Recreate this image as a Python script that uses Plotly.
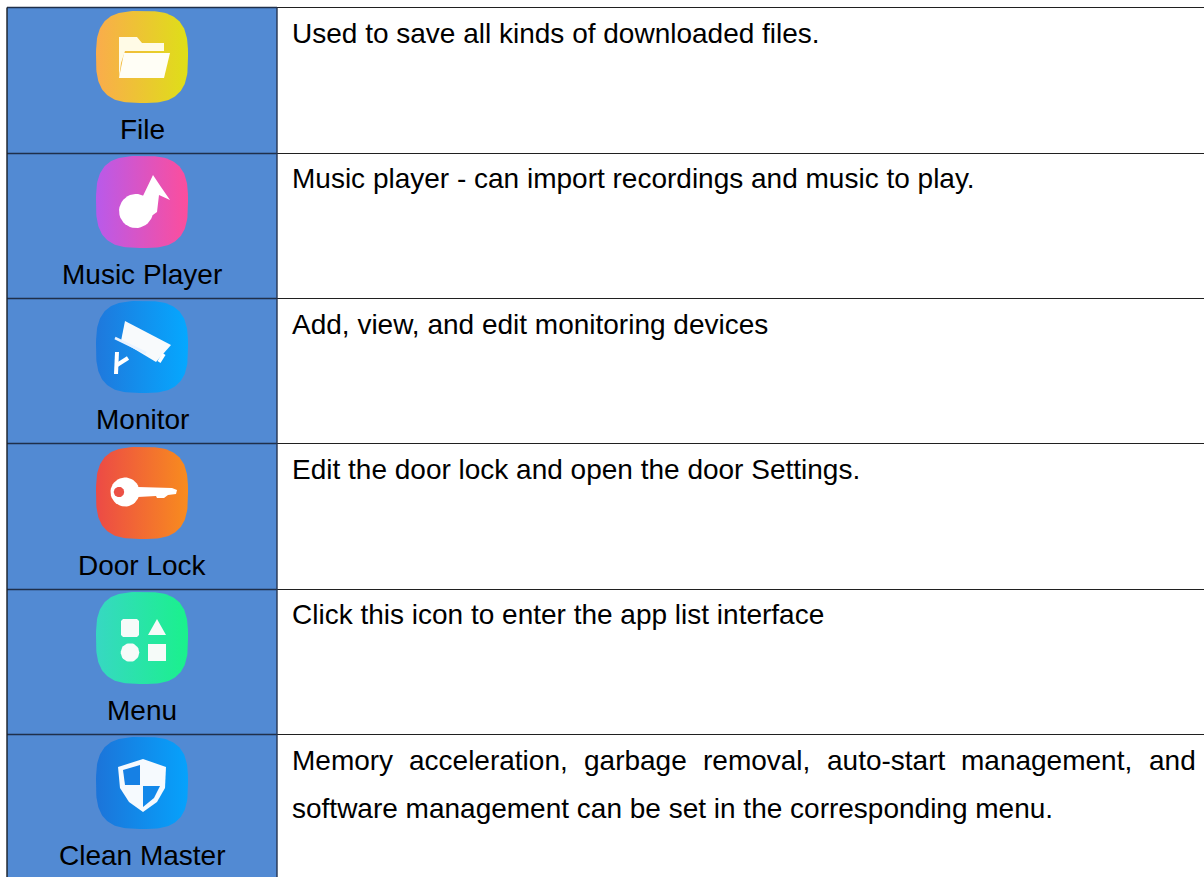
import numpy as np
import plotly.graph_objects as go

# ---- table content ----
names = ["File", "Music Player", "Monitor", "Door Lock", "Menu", "Clean Master"]
descriptions = [
    "Used to save all kinds of downloaded files.",
    "Music player - can import recordings and music to play.",
    "Add, view, and edit monitoring devices",
    "Edit the door lock and open the door Settings.",
    "Click this icon to enter the app list interface",
    None,
]
last_line1_words = ["Memory", "acceleration,", "garbage", "removal,", "auto-start", "management,", "and"]
last_line1_x = [291, 407.5, 583, 701.5, 825.5, 959.5, 1148]
last_line2 = "software management can be set in the corresponding menu."

row_edges = [7.5, 153.5, 298.5, 443.5, 589.5, 734.5, 880]
text_mid = [33, 178.7, 324, 469.5, 614.3, 760]
label_mid = [129, 274.5, 419.5, 565.3, 710.3, 855.5]
icon_tops = [11, 156, 301, 447, 592, 737]
icon_left, icon_size = 96, 92
grad_from = ["#FAAC4C", "#B95AEA", "#1F78DC", "#EC4A46", "#37D8C2", "#1C74D9"]
grad_to = ["#DEDF18", "#FC4E9C", "#05A8FF", "#F88C1E", "#1AF18C", "#06A2FC"]

FONT = "Liberation Sans"
FS = 28
BLUE = "#528AD3"
LINE = "#1b1f26"
col0, col1, col2 = 7, 277, 1204

fig = go.Figure()
shapes, notes = [], []


def rect(x0, y0, x1, y1, fill):
    shapes.append(dict(type="rect", xref="x", yref="y", x0=x0, x1=x1, y0=y0, y1=y1,
                       fillcolor=fill, line=dict(width=0), layer="below"))


def hline(x0, x1, y, color=LINE, w=1.2):
    shapes.append(dict(type="line", xref="x", yref="y", x0=x0, x1=x1, y0=y, y1=y,
                       line=dict(color=color, width=w), layer="above"))


def vline(x, y0, y1, color=LINE, w=1.4):
    shapes.append(dict(type="line", xref="x", yref="y", x0=x, x1=x, y0=y0, y1=y1,
                       line=dict(color=color, width=w), layer="above"))


def text(x, y, s, anchor="left"):
    notes.append(dict(x=x, y=y, xref="x", yref="y", text=s, showarrow=False, xanchor=anchor,
                      yanchor="middle", align=anchor, xshift=0, borderpad=0,
                      font=dict(family=FONT, size=FS, color="#000000")))


def poly(ox, oy, pts, color="#FFFFFF"):
    xs = [ox + p[0] for p in pts] + [ox + pts[0][0]]
    ys = [oy + p[1] for p in pts] + [oy + pts[0][1]]
    fig.add_trace(go.Scatter(x=xs, y=ys, mode="lines", fill="toself", fillcolor=color,
                             line=dict(width=0), hoverinfo="skip", showlegend=False))


def circle(ox, oy, cx, cy, r, color="#FFFFFF"):
    t = np.linspace(0, 2 * np.pi, 40)
    poly(ox, oy, list(zip(cx + r * np.cos(t), cy + r * np.sin(t))), color)


def stroke(ox, oy, pts, w=3.5, color="#FFFFFF"):
    fig.add_trace(go.Scatter(x=[ox + p[0] for p in pts], y=[oy + p[1] for p in pts], mode="lines",
                             line=dict(width=w, color=color), hoverinfo="skip", showlegend=False))


def squircle(ox, oy, c1, c2, s=icon_size, n=3.0):
    t = np.linspace(0, 2 * np.pi, 160)
    a = s / 2
    xs = ox + a + a * np.sign(np.cos(t)) * np.abs(np.cos(t)) ** (2 / n)
    ys = oy + a + a * np.sign(np.sin(t)) * np.abs(np.sin(t)) ** (2 / n)
    fig.add_trace(go.Scatter(x=xs, y=ys, mode="lines", fill="toself", line=dict(width=0),
                             fillgradient=dict(type="horizontal", colorscale=[[0, c1], [1, c2]]),
                             hoverinfo="skip", showlegend=False))


def glyph_file(x, y):
    poly(x, y, [(23, 26), (41, 26), (46, 32), (68, 32), (68, 40), (29, 40), (25, 52), (23, 67)], "#FFFBE6")
    poly(x, y, [(28, 42), (74, 42), (68, 67), (23, 67)], "#FFFEF6")


def glyph_music(x, y):
    circle(x, y, 40, 55, 17)
    poly(x, y, [(46, 42), (57, 19), (65, 31), (74, 44), (63, 39), (61, 56), (50, 64)])


def glyph_monitor(x, y):
    poly(x, y, [(29, 20), (75, 44), (60, 61), (25, 40)], "#F8FAFC")
    stroke(x, y, [(19, 37), (50, 52)], 2.5, "#EAF3FF")
    stroke(x, y, [(68, 53), (63, 61)], 3.5)
    stroke(x, y, [(21, 51), (20, 73)], 4)
    stroke(x, y, [(21, 64), (32, 57)], 4)


def glyph_door(x, y):
    circle(x, y, 29, 45, 14.5)
    poly(x, y, [(42, 40), (76, 41), (81, 43), (80, 47), (72, 48), (68, 51), (61, 51), (60, 49), (42, 50)])
    circle(x, y, 23, 45, 5.2, "#EC5045")


def glyph_menu(x, y):
    poly(x, y, [(27, 27), (41, 27), (43, 29), (43, 43), (41, 45), (27, 45), (25, 43), (25, 29)], "#F6FBF9")
    poly(x, y, [(61, 27), (70, 43), (52, 43)], "#F6FBF9")
    circle(x, y, 34, 60.5, 9.3, "#F6FBF9")
    poly(x, y, [(52, 52), (70, 52), (70, 69), (52, 69)], "#F6FBF9")


def glyph_clean(x, y):
    poly(x, y, [(47, 22), (70, 30), (69, 51), (61, 65), (47, 75), (33, 65), (24, 51), (22, 30)], "#F6FAFE")
    poly(x, y, [(27, 33), (44, 28), (44, 48), (29, 48)], "#1680E4")
    poly(x, y, [(47, 49), (64, 49), (58, 61), (47, 70)], "#1288EA")


glyphs = [glyph_file, glyph_music, glyph_monitor, glyph_door, glyph_menu, glyph_clean]

# cells
for i in range(len(names)):
    rect(col0, row_edges[i], col1, min(row_edges[i + 1], 877), BLUE)
for e in row_edges[:-1]:
    hline(col0, col1, e, "#1f2f4a", 1.4)
    hline(col1, col2, e, "#202020", 1.1)
vline(col0, row_edges[0], 877)
vline(col1, row_edges[0], 877, "#25344f", 1.4)

# icons + labels
for i, n in enumerate(names):
    squircle(icon_left, icon_tops[i], grad_from[i], grad_to[i])
    glyphs[i](icon_left, icon_tops[i])
    text(142, label_mid[i], n, "center")
    if descriptions[i]:
        text(291, text_mid[i], descriptions[i])

for w, xp in zip(last_line1_words, last_line1_x):
    text(xp, text_mid[5], w)
text(291, text_mid[5] + 48, last_line2)

fig.update_layout(
    width=1204, height=877, margin=dict(l=0, r=0, t=0, b=0), paper_bgcolor="#FFFFFF",
    plot_bgcolor="#FFFFFF", showlegend=False, shapes=shapes, annotations=notes,
    xaxis=dict(range=[0, 1204], visible=False, fixedrange=True),
    yaxis=dict(range=[877, 0], visible=False, fixedrange=True),
)
fig.write_html("out.html", config={"displayModeBar": False},
               post_script="document.body.style.margin='0';document.body.style.overflow='hidden';")
